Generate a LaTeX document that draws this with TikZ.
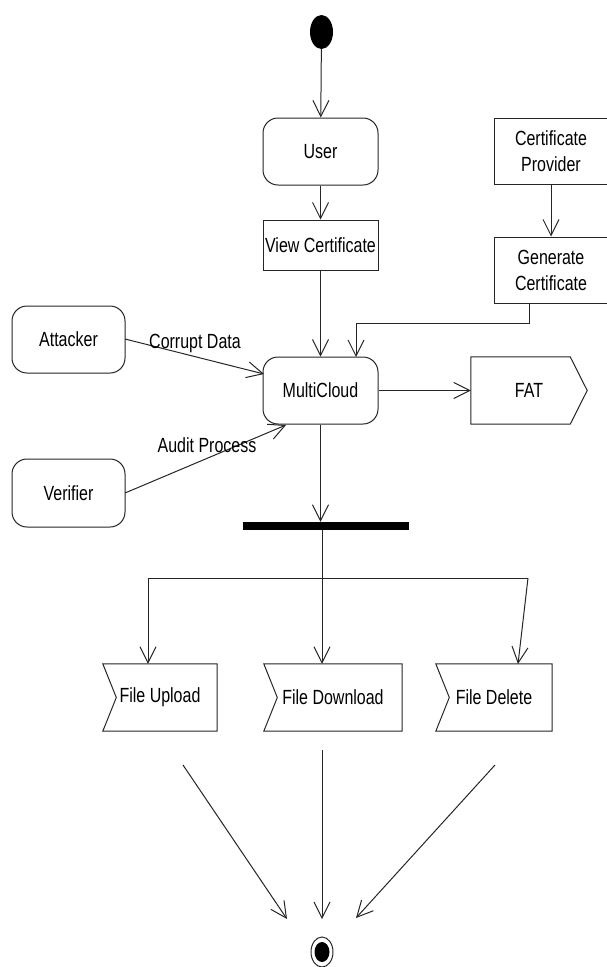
\documentclass[tikz,border=0pt]{standalone}
\usepackage{fontspec}
\setmainfont{Liberation Sans}[FakeStretch=0.78]
\usetikzlibrary{arrows.meta,shapes.geometric}
\begin{document}
\begin{tikzpicture}[x=1pt,y=-1pt,
  every node/.style={font=\fontsize{20.5}{26}\selectfont, inner sep=0pt},
  line/.style={line width=1pt, draw=black!85},
  arr/.style={line, -{Straight Barb[length=16pt,width=16pt,line width=1pt]}},
  roundbox/.style={line, draw, rounded corners=15pt, align=center},
  rectbox/.style={line, draw, align=center},
  plainbox/.style={align=center},
]
\useasboundingbox (0,0) rectangle (606,967);
\fill[white] (0,0) rectangle (606,967);

% start
\node[fill=black, ellipse, minimum width=23pt, minimum height=34pt] (start) at (321.5,32) {};
% actions
\node[roundbox, minimum width=115pt, minimum height=67pt] (user) at (320.5,151.5) {User};
\node[rectbox, minimum width=115pt, minimum height=50pt] (view) at (320.5,245) {View Certificate};
\node[rectbox, minimum width=114pt, minimum height=66pt] (cprov) at (551,151) {Certificate\\Provider};
\node[rectbox, minimum width=114pt, minimum height=66pt] (gcert) at (551,270) {Generate\\Certificate};
\node[roundbox, minimum width=113pt, minimum height=67pt] (att) at (68.5,339.5) {Attacker};
\node[roundbox, minimum width=113pt, minimum height=68pt] (ver) at (68.5,493) {Verifier};
\node[roundbox, minimum width=115pt, minimum height=67pt] (mc) at (320.5,390.5) {MultiCloud};

% FAT (send signal)
\node[plainbox, minimum width=116pt, minimum height=67pt] (fat) at (529,390.5) {FAT};
\draw[line] (fat.north west) -- ([xshift=-17pt]fat.north east) -- (fat.east) -- ([xshift=-17pt]fat.south east) -- (fat.south west) -- cycle;

% fork bar
\node[fill=black, minimum width=166pt, minimum height=8pt] (bar) at (326,526) {};

% receive signals
\node[plainbox, minimum width=114pt, minimum height=67pt] (fu) at (160,697.5) {File Upload};
\node[plainbox, minimum width=138pt, minimum height=67pt] (fd) at (333,697.5) {File Download};
\node[plainbox, minimum width=116pt, minimum height=67pt] (fdel) at (494,697.5) {File Delete};
\foreach \n in {fu,fd,fdel}{
  \draw[line] (\n.north west) -- (\n.north east) -- (\n.south east) -- (\n.south west) -- ([xshift=13.5pt]\n.west) -- cycle;
}

% end
\node[line, draw, ellipse, minimum width=22pt, minimum height=30pt] (endo) at (322,952) {};
\node[fill=black, ellipse, minimum width=15pt, minimum height=20pt] (endi) at (322,952) {};

% connectors
\draw[arr] (start) -- (user);
\draw[arr] (user) -- (view);
\draw[arr] (view) -- (mc);
\draw[arr] (cprov.south) -- (gcert.north);
\coordinate (g1) at (529,303);
\draw[arr] (g1) -- (529,323) -- (356,323) -- (356,357);
\coordinate (a1) at (125,339);
\coordinate (a2) at (264,374);
\draw[arr] (a1) -- (a2);
\coordinate (v1) at (125,493);
\coordinate (v2) at (286,425);
\draw[arr] (v1) -- (v2);
\node (lcd) at (195,343) {Corrupt Data};
\node (lap) at (207,445) {Audit Process};
\draw[arr] (mc) -- (fat.west);
\draw[arr] (mc.south) -- (bar.north -| mc.south);

\coordinate (k) at (322,578);
\coordinate (kl) at (148,578);
\coordinate (kr) at (528,578);
\draw[line] (322,530) -- (k);
\draw[line] (kl) -- (kr);
\draw[arr] (kl) -- (fu.north -| kl);
\draw[arr] (k) -- (fd.north -| k);
\draw[arr] (kr) -- (518,664);

\coordinate (e1) at (183,765);
\coordinate (e2) at (322,750);
\coordinate (e3) at (495,765);
\coordinate (t1) at (287,919);
\coordinate (t2) at (322,919);
\coordinate (t3) at (356,918);
\draw[arr] (e1) -- (t1);
\draw[arr] (e2) -- (t2);
\draw[arr] (e3) -- (t3);
\end{tikzpicture}
\end{document}
